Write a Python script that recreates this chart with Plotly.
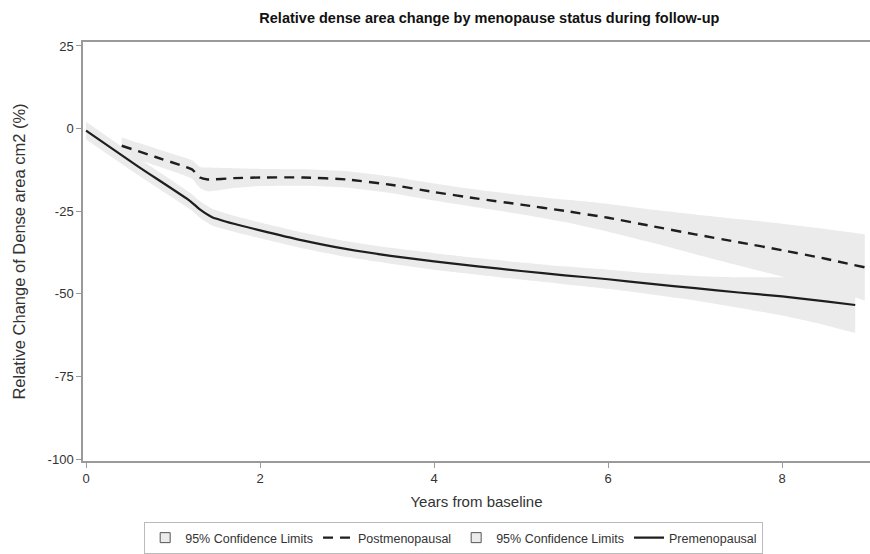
import plotly.graph_objects as go

# Premenopausal: mean relative change and 95% CI half-width
pre_years = [0, 0.6, 1.2, 1.3, 1.45, 1.7, 2.0, 2.5, 3.0, 3.5, 4.0, 4.5, 5.0, 5.5,
             6.0, 6.5, 7.0, 7.5, 8.0, 8.5, 8.84]
pre_change = [-0.6, -11.5, -22.0, -24.3, -26.8, -28.8, -30.8, -33.9, -36.5, -38.5,
              -40.2, -41.7, -43.1, -44.4, -45.6, -47.0, -48.3, -49.6, -50.8, -52.3, -53.4]
pre_halfwidth = [2.7, 2.6, 2.5, 2.5, 2.5, 2.4, 2.4, 2.4, 2.4, 2.4, 2.5, 2.5, 2.6, 2.7,
                 2.9, 3.2, 3.7, 4.6, 5.8, 7.2, 8.5]

# Postmenopausal: mean relative change and 95% CI half-width
post_years = [0.41, 0.8, 1.1, 1.22, 1.31, 1.4, 1.7, 2.0, 2.5, 3.0, 3.5, 4.0, 4.5, 5.0,
              5.5, 6.0, 6.5, 7.0, 7.5, 8.0, 8.5, 8.95]
post_change = [-5.2, -8.6, -11.2, -12.4, -14.8, -15.4, -15.0, -14.8, -14.8, -15.4, -17.0,
               -19.2, -21.2, -23.0, -24.9, -27.0, -29.5, -32.0, -34.4, -36.8, -39.4, -42.0]
post_halfwidth = [2.5, 2.6, 2.7, 2.8, 3.2, 3.6, 3.0, 2.6, 2.5, 2.5, 2.5, 2.6, 2.7, 2.9,
                  3.4, 4.2, 5.0, 6.0, 7.0, 8.0, 9.0, 10.0]

x_ticks = [0, 2, 4, 6, 8]
y_ticks = [-100, -75, -50, -25, 0, 25]

BAND = "#EBEBEB"
LINE = "#1E1E1E"
AXIS = "#9A9A9A"
TEXT = "#333333"
FONT = "Liberation Sans, Arial, sans-serif"
SMOOTH = 0.5

fig = go.Figure()


def add_band(xs, ys, hw):
    lower = [y - h for y, h in zip(ys, hw)]
    upper = [y + h for y, h in zip(ys, hw)]
    edge = dict(width=0, shape="spline", smoothing=SMOOTH)
    fig.add_trace(go.Scatter(x=xs, y=lower, mode="lines", line=edge,
                             hoverinfo="skip", showlegend=False))
    fig.add_trace(go.Scatter(x=xs, y=upper, mode="lines", line=edge, fill="tonexty",
                             fillcolor=BAND, hoverinfo="skip", showlegend=False))


add_band(post_years, post_change, post_halfwidth)
add_band(pre_years, pre_change, pre_halfwidth)

fig.add_trace(go.Scatter(x=post_years, y=post_change, mode="lines",
                         line=dict(color=LINE, width=2.4, dash="10px,7px",
                                   shape="spline", smoothing=SMOOTH),
                         showlegend=False))
fig.add_trace(go.Scatter(x=pre_years, y=pre_change, mode="lines",
                         line=dict(color=LINE, width=2.2, shape="spline", smoothing=SMOOTH),
                         showlegend=False))

# legend entries
ci_marker = dict(symbol="square", size=10, color=BAND, line=dict(color="#555555", width=1))
fig.add_trace(go.Scatter(x=[None], y=[None], mode="markers", marker=ci_marker,
                         name="95% Confidence Limits"))
fig.add_trace(go.Scatter(x=[None], y=[None], mode="lines",
                         line=dict(color=LINE, width=2.4, dash="10px,7px"),
                         name="Postmenopausal"))
fig.add_trace(go.Scatter(x=[None], y=[None], mode="markers", marker=ci_marker,
                         name="95% Confidence Limits"))
fig.add_trace(go.Scatter(x=[None], y=[None], mode="lines",
                         line=dict(color=LINE, width=2.2), name="Premenopausal"))

fig.update_layout(
    width=870, height=554,
    margin=dict(l=83, r=0, t=42, b=92),
    paper_bgcolor="white", plot_bgcolor="white",
    font=dict(family=FONT, size=12, color=TEXT),
    title=dict(text="<b>Relative dense area change by menopause status during follow-up</b>",
               x=0.5625, xanchor="center", y=0.968, yanchor="middle",
               font=dict(size=14.5, color="#111111")),
    xaxis=dict(range=[-0.035, 9.01], tickvals=x_ticks, ticktext=[str(v) for v in x_ticks],
               showgrid=False, zeroline=False, showline=True, linecolor=AXIS, linewidth=1.5,
               mirror=True, ticks="outside", ticklen=5, tickcolor=AXIS,
               tickfont=dict(size=13, color=TEXT),
               title=dict(text="Years from baseline", font=dict(size=15, color=TEXT), standoff=11)),
    yaxis=dict(range=[-100.6, 26.2], tickvals=y_ticks, ticktext=[str(v) for v in y_ticks],
               showgrid=False, zeroline=False, showline=True, linecolor=AXIS, linewidth=1.5,
               ticks="outside", ticklen=5, tickcolor=AXIS,
               tickfont=dict(size=13, color=TEXT),
               title=dict(text="Relative Change of Dense area cm2 (%)",
                          font=dict(size=16.5, color=TEXT), standoff=18)),
    legend=dict(orientation="h", x=0.471, xanchor="center", y=-0.222, yanchor="bottom",
                bordercolor="#BBBBBB", borderwidth=1, bgcolor="white",
                font=dict(size=12.5, color=TEXT), traceorder="normal",
                itemwidth=30, tracegroupgap=0),
)

fig.write_html("out.html")
